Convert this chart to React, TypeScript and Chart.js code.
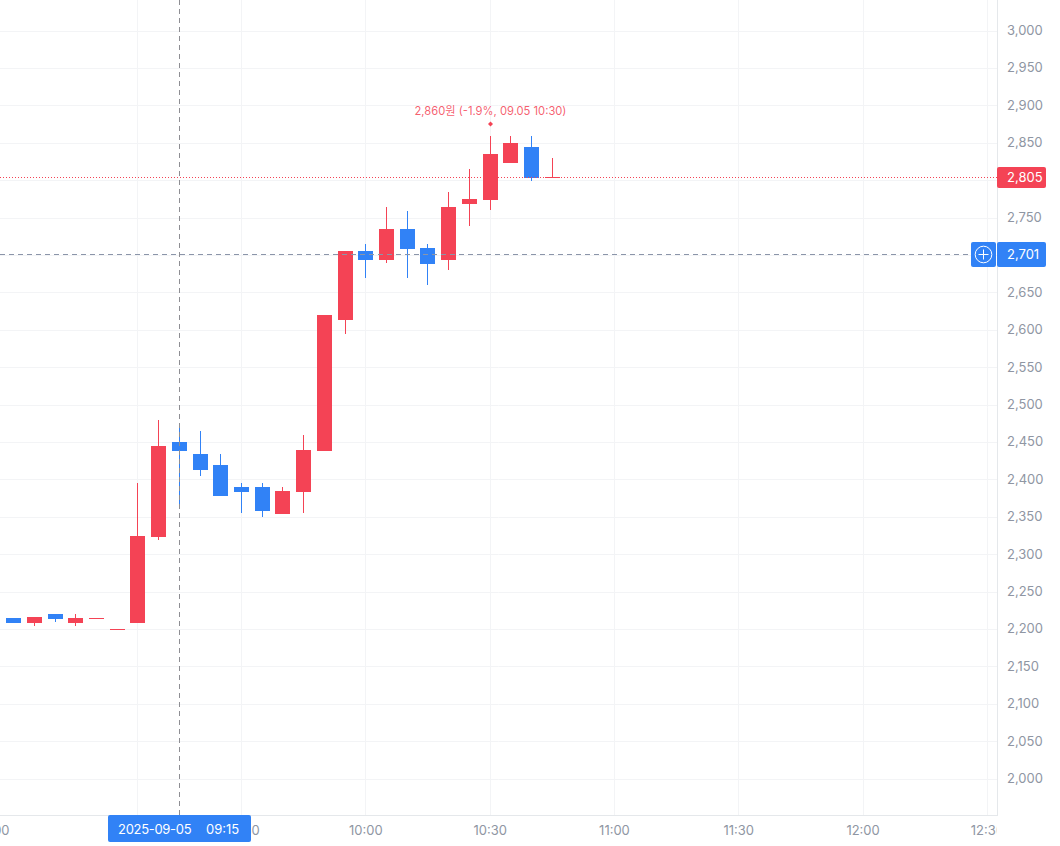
import React, { useEffect, useRef } from "react";
import { Chart, registerables } from "chart.js";

Chart.register(...registerables);

const indices = [0,1,2,3,4,5,6,7,8,9,10,11,12,13,14,15,16,17,18,19,20,21,22,23,24,25,26];
const opens = [2215,2208,2220,2208,2214,2200,2208,2323,2450,2434,2420,2390,2390,2354,2384,2438,2614,2705,2694,2735,2710,2694,2768,2774,2823,2845,2804];
const highs = [2215,2216,2220,2220,2215,2200,2395,2480,2470,2465,2434,2395,2395,2390,2460,2620,2705,2715,2765,2759,2715,2785,2815,2860,2860,2860,2830];
const lows = [2208,2204,2210,2204,2214,2200,2208,2319,2365,2405,2378,2355,2350,2354,2355,2438,2595,2670,2690,2670,2660,2680,2739,2760,2823,2799,2804];
const closes = [2208,2216,2214,2215,2215,2200,2325,2445,2438,2413,2378,2384,2358,2385,2440,2620,2705,2694,2735,2708,2688,2765,2775,2835,2850,2803,2805];

const yTicks = [2000,2050,2100,2150,2200,2250,2300,2350,2400,2450,2500,2550,2600,2650,2700,2750,2800,2850,2900,2950,3000];
const xTickIndex = [-1,6,11,17,23,29,35,41,47];
const xTickLabels = ["15:00","09:00","09:30","10:00","10:30","11:00","11:30","12:00","12:30"];

const lastPrice = 2805;
const markPrice = 2701;
const highPrice = 2860;
const highIndex = 23;
const crossIndex = 8;
const crossLabelDate = "2025-09-05";
const crossLabelTime = "09:15";
const highLabel = "2,860원 (-1.9%, 09.05 10:30)";

const RED = "#F44355";
const BLUE = "#3182F6";
const GRID = "#F3F4F6";
const AXIS = "#E5E8EB";
const TEXT = "#8F96A3";
const FONT = "Inter";
const fmt = (v: number) => v.toLocaleString("en-US");

const snapPlugin = {
  id: "snap",
  beforeDraw(chart: any) {
    const { ctx } = chart;
    ctx.save();
    ctx.fillStyle = "#fff";
    ctx.fillRect(0, 0, chart.width, chart.height);
    ctx.restore();
  },
  beforeDatasetsDraw(chart: any) {
    const { ctx, chartArea } = chart;
    ctx.save();
    ctx.fillStyle = "#fff";
    ctx.fillRect(chartArea.right - 0.5, chartArea.bottom + 1, chart.width - chartArea.right + 1, chart.height - chartArea.bottom);
    ctx.restore();
    chart.getSortedVisibleDatasetMetas().forEach((meta: any) => {
      meta.data.forEach((el: any) => {
        el.x = Math.floor(el.x) + 0.5;
        el.y = Math.floor(el.y + 0.15);
        el.base = Math.floor(el.base + 0.15);
        if (el.base === el.y) el.base = el.y + 1;
      });
    });
  },
};

function box(ctx: any, x: number, y: number, w: number, h: number, color: string) {
  ctx.fillStyle = color;
  ctx.beginPath();
  ctx.roundRect(x, y, w, h, 2);
  ctx.fill();
}

const overlayPlugin = {
  id: "overlay",
  afterDatasetsDraw(chart: any) {
    const { ctx, chartArea, scales } = chart;
    const { x, y } = scales;
    ctx.save();
    const yLast = Math.floor(y.getPixelForValue(lastPrice)) + 0.5;
    ctx.strokeStyle = RED;
    ctx.lineWidth = 1;
    ctx.setLineDash([1, 2]);
    ctx.beginPath();
    ctx.moveTo(0, yLast);
    ctx.lineTo(chartArea.right, yLast);
    ctx.stroke();
    const yMark = Math.floor(y.getPixelForValue(markPrice)) + 0.5;
    ctx.strokeStyle = "#8B95A9";
    ctx.setLineDash([5, 4]);
    ctx.beginPath();
    ctx.moveTo(0, yMark);
    ctx.lineTo(971, yMark);
    ctx.stroke();
    const xCross = Math.floor(x.getPixelForValue(crossIndex)) + 0.5;
    ctx.strokeStyle = "#8E8E93";
    ctx.setLineDash([5, 4]);
    ctx.beginPath();
    ctx.moveTo(xCross, 0);
    ctx.lineTo(xCross, chartArea.bottom);
    ctx.stroke();
    ctx.setLineDash([]);

    const xHigh = Math.floor(x.getPixelForValue(highIndex)) + 0.5;
    const yHigh = y.getPixelForValue(highPrice);
    ctx.font = `11.2px ${FONT}, "Noto Sans CJK KR"`;
    ctx.textAlign = "center";
    ctx.textBaseline = "middle";
    ctx.fillStyle = "rgba(244,67,85,0.85)";
    ctx.fillText(highLabel, xHigh, yHigh - 24);
    ctx.fillStyle = RED;
    ctx.beginPath();
    ctx.moveTo(xHigh, yHigh - 14.5);
    ctx.lineTo(xHigh + 2.5, yHigh - 12);
    ctx.lineTo(xHigh, yHigh - 9.5);
    ctx.lineTo(xHigh - 2.5, yHigh - 12);
    ctx.closePath();
    ctx.fill();
    ctx.restore();
  },
  afterDraw(chart: any) {
    const { ctx, chartArea, scales } = chart;
    const { y } = scales;
    ctx.save();
    const yLast = Math.floor(y.getPixelForValue(lastPrice)) + 0.5;
    const yMark = Math.floor(y.getPixelForValue(markPrice)) + 0.5;
    ctx.textBaseline = "middle";
    ctx.font = `13px ${FONT}`;
    ctx.textAlign = "left";
    box(ctx, 997, yLast - 10.5, 49, 21, RED);
    ctx.fillStyle = "#fff";
    ctx.fillText(fmt(lastPrice), 1007, yLast + 0.5);
    box(ctx, 997, yMark - 12.5, 49, 25, BLUE);
    box(ctx, 971, yMark - 12.5, 25, 25, BLUE);
    ctx.fillStyle = "#fff";
    ctx.fillText(fmt(markPrice), 1007, yMark + 0.5);
    ctx.strokeStyle = "#fff";
    ctx.lineWidth = 1;
    ctx.beginPath();
    ctx.arc(983.5, yMark, 8.3, 0, Math.PI * 2);
    ctx.moveTo(978.5, yMark);
    ctx.lineTo(988.5, yMark);
    ctx.moveTo(983.5, yMark - 5);
    ctx.lineTo(983.5, yMark + 5);
    ctx.stroke();
    box(ctx, 108, chartArea.bottom, 143, 27, BLUE);
    ctx.fillStyle = "#fff";
    (ctx as any).letterSpacing = "-0.3px";
    ctx.fillText(crossLabelDate, 118, chartArea.bottom + 15.5);
    (ctx as any).letterSpacing = "0px";
    ctx.fillText(crossLabelTime, 206, chartArea.bottom + 15.5);
    ctx.restore();
  },
};

const noPad = (s: any) => {
  s.paddingLeft = 0;
  s.paddingRight = 0;
  s.paddingTop = 0;
  s.paddingBottom = 0;
};

export default function App() {
  const ref = useRef<HTMLCanvasElement | null>(null);
  useEffect(() => {
    const canvas = ref.current as HTMLCanvasElement;
    canvas.getContext("2d", { alpha: false });
    const bodyColors = opens.map((o, i) => (closes[i] < o ? BLUE : RED));
    const chart = new Chart(canvas, {
      type: "bar",
      data: {
        datasets: [
          {
            label: "body",
            data: indices.map((x, i) => ({ x, y: [opens[i], closes[i]] })),
            backgroundColor: bodyColors,
            grouped: false,
            barPercentage: 1,
            categoryPercentage: 1,
            maxBarThickness: 15,
            inflateAmount: 0,
            borderWidth: 0,
          },
          {
            label: "wick",
            data: indices.map((x, i) => ({ x, y: [lows[i], highs[i]] })),
            backgroundColor: bodyColors,
            grouped: false,
            barPercentage: 1,
            categoryPercentage: 1,
            maxBarThickness: 1,
            inflateAmount: 0,
            borderWidth: 0,
          },
        ] as any,
      },
      options: {
        responsive: false,
        animation: false,
        layout: { padding: 0 },
        plugins: { legend: { display: false }, tooltip: { enabled: false } },
        scales: {
          x: {
            type: "linear",
            position: "bottom",
            offset: false,
            min: -0.6554,
            max: 47.463,
            afterBuildTicks: (s: any) => {
              s.ticks = xTickIndex.map((value) => ({ value }));
            },
            afterFit: (s: any) => {
              s.height = 31;
              noPad(s);
            },
            grid: { color: GRID, drawTicks: false, offset: false },
            border: { color: AXIS },
            ticks: {
              autoSkip: false,
              maxRotation: 0,
              padding: 8,
              color: TEXT,
              font: { family: FONT, size: 13 },
              callback: (v: any) => xTickLabels[xTickIndex.indexOf(Number(v))] ?? "",
            },
          },
          y: {
            type: "linear",
            position: "right",
            min: 1952.1,
            max: 3041.7,
            afterBuildTicks: (s: any) => {
              s.ticks = yTicks.map((value) => ({ value }));
            },
            afterFit: (s: any) => {
              s.width = 63;
              noPad(s);
            },
            grid: { color: GRID, drawTicks: false },
            border: { color: AXIS },
            ticks: {
              z: 1,
              padding: 10,
              color: TEXT,
              font: { family: FONT, size: 13 },
              callback: (v: any) => fmt(Number(v)),
            },
          },
        },
      } as any,
      plugins: [snapPlugin, overlayPlugin],
    });
    return () => chart.destroy();
  }, []);
  return (
    <div style={{ position: "absolute", left: 0, top: 0, width: 1060, height: 846, background: "#fff" }}>
      <canvas ref={ref} width={1060} height={846} style={{ display: "block" }} />
    </div>
  );
}
